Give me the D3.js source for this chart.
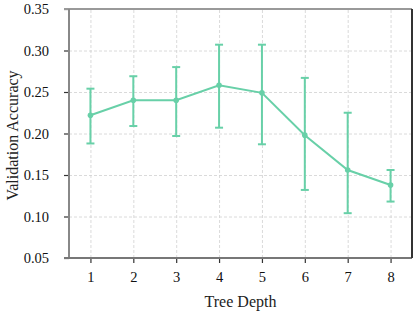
<!DOCTYPE html>
<html lang="en">
<head>
  <meta charset="UTF-8">
  <title>Validation Accuracy vs Tree Depth</title>
  <style>
    body { margin: 0; background: #fff; }
    svg { font-family: "Liberation Serif", "Times New Roman", serif; }
    .grid line { stroke: #d0d0d0; stroke-dasharray: 3,2; stroke-width: 0.8; }
    .grid path { display: none; }
    .axis path { display: none; }
    .axis line { stroke: #333; stroke-width: 1.2; }
    .axis text { font-size: 14.5px; fill: #111; font-family: "Liberation Serif", "Times New Roman", serif; }
  </style>
</head>
<body>
  <svg width="415" height="315"></svg>
  <script src="https://cdn.jsdelivr.net/npm/d3@7"></script>
  <script>
    // data
    var depths = [1, 2, 3, 4, 5, 6, 7, 8]
    var means = [0.222, 0.240, 0.240, 0.258, 0.249, 0.198, 0.156, 0.138]
    var upper = [0.254, 0.269, 0.280, 0.307, 0.307, 0.267, 0.225, 0.156]
    var lower = [0.188, 0.209, 0.197, 0.207, 0.187, 0.132, 0.104, 0.118]
    var yTicks = [0.05, 0.10, 0.15, 0.20, 0.25, 0.30, 0.35]

    var color = '#68d0a8'
    var svg = d3.select('svg')
    var mLeft = 69, mRight = 412, mTop = 9, mBottom = 258

    var x = d3.scaleLinear().domain([0.5, 8.5]).range([mLeft, mRight])
    var y = d3.scaleLinear().domain([0.05, 0.35]).range([mBottom, mTop])

    // grid
    svg.append('g')
      .attr('class', 'grid')
      .attr('transform', 'translate(0,' + mBottom + ')')
      .call(d3.axisBottom(x).tickValues(depths).tickSize(-(mBottom - mTop)).tickFormat(''))
    svg.append('g')
      .attr('class', 'grid')
      .attr('transform', 'translate(' + mLeft + ',0)')
      .call(d3.axisLeft(y).tickValues(yTicks).tickSize(-(mRight - mLeft)).tickFormat(''))

    // axes
    svg.append('g')
      .attr('class', 'axis')
      .attr('transform', 'translate(0,' + mBottom + ')')
      .call(d3.axisBottom(x).tickValues(depths).tickSize(5).tickPadding(9).tickFormat(d3.format('d')))
      .attr('font-family', null).attr('font-size', null)
    svg.append('g')
      .attr('class', 'axis')
      .attr('transform', 'translate(' + mLeft + ',0)')
      .call(d3.axisLeft(y).tickValues(yTicks).tickSize(5).tickPadding(15).tickFormat(d3.format('.2f')))
      .attr('font-family', null).attr('font-size', null)

    // spines
    svg.append('line').attr('x1', mLeft - 5).attr('x2', mRight).attr('y1', mTop).attr('y2', mTop)
      .attr('stroke', '#999').attr('stroke-width', 2)
    svg.append('line').attr('x1', mLeft).attr('x2', mLeft).attr('y1', mTop).attr('y2', mBottom)
      .attr('stroke', '#888').attr('stroke-width', 2)
    svg.append('line').attr('x1', mLeft - 5).attr('x2', mRight).attr('y1', mBottom).attr('y2', mBottom)
      .attr('stroke', '#777').attr('stroke-width', 2)
    svg.append('line').attr('x1', mRight).attr('x2', mRight).attr('y1', mTop).attr('y2', mBottom)
      .attr('stroke', '#333').attr('stroke-width', 2)

    // error bars
    var eb = svg.append('g')
    depths.forEach(function(d, i) {
      eb.append('line')
        .attr('x1', x(d)).attr('x2', x(d))
        .attr('y1', y(lower[i])).attr('y2', y(upper[i]))
        .attr('stroke', color).attr('stroke-width', 2)
      ;[lower[i], upper[i]].forEach(function(v) {
        eb.append('line')
          .attr('x1', x(d) - 4).attr('x2', x(d) + 4)
          .attr('y1', y(v)).attr('y2', y(v))
          .attr('stroke', color).attr('stroke-width', 2)
      })
    })

    // line + markers
    var line = d3.line()
      .x(function(d, i) { return x(depths[i]) })
      .y(function(d) { return y(d) })
    svg.append('path')
      .datum(means)
      .attr('d', line)
      .attr('fill', 'none')
      .attr('stroke', color)
      .attr('stroke-width', 2)
    svg.selectAll('.pt')
      .data(means)
      .enter()
      .append('circle')
      .attr('class', 'pt')
      .attr('cx', function(d, i) { return x(depths[i]) })
      .attr('cy', function(d) { return y(d) })
      .attr('r', 2.8)
      .attr('fill', color)

    // titles
    svg.append('text')
      .attr('x', (mLeft + mRight) / 2)
      .attr('y', 307)
      .attr('text-anchor', 'middle')
      .attr('font-size', '16px')
      .attr('fill', '#222')
      .text('Tree Depth')
    svg.append('text')
      .attr('transform', 'translate(18,' + ((mTop + mBottom) / 2 + 2) + ') rotate(-90)')
      .attr('text-anchor', 'middle')
      .attr('font-size', '16px')
      .attr('fill', '#222')
      .text('Validation Accuracy')
  </script>
</body>
</html>
